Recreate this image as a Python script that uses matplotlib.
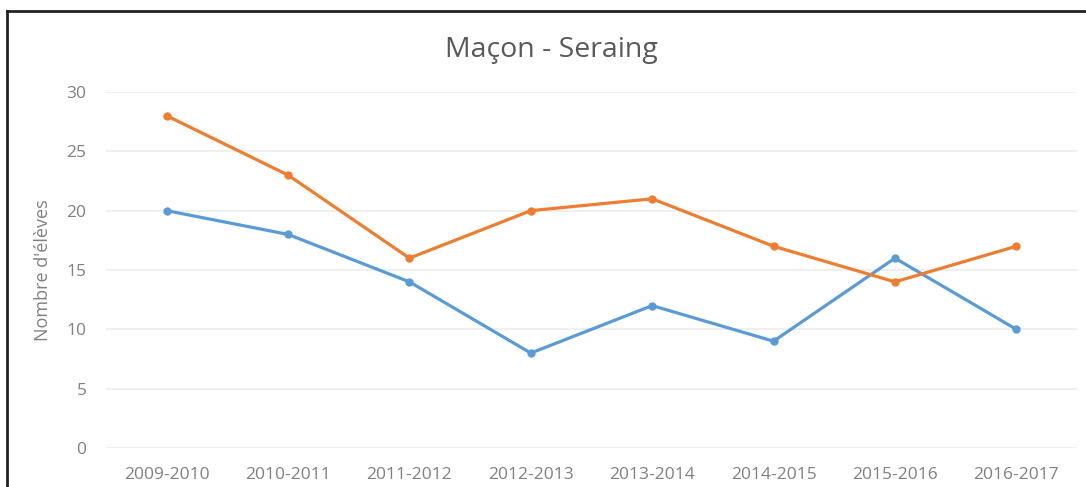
import matplotlib.pyplot as plt
from matplotlib.lines import Line2D

# Student counts per school year
years = ["2009-2010", "2010-2011", "2011-2012", "2012-2013",
         "2013-2014", "2014-2015", "2015-2016", "2016-2017"]
orange_vals = [28, 23, 16, 20, 21, 17, 14, 17]
blue_vals = [20, 18, 14, 8, 12, 9, 16, 10]

plt.rcParams['font.family'] = ['Open Sans', 'DejaVu Sans']

W, H = 1086, 487
fig = plt.figure(figsize=(W / 100, H / 100), dpi=100)
ax = fig.add_axes([106 / W, (H - 448) / H, (1077 - 106) / W, (448 - 92) / H])

x = range(len(years))
ax.plot(x, blue_vals, color="#5B9BD5", lw=2.3, marker="o", ms=5)
ax.plot(x, orange_vals, color="#ED7D31", lw=2.3, marker="o", ms=5)

ax.set_xlim(-0.5, len(years) - 0.5)
ax.set_ylim(0, 30)
ax.set_yticks(range(0, 31, 5))
ax.set_xticks(list(x))
ax.set_xticklabels(years)
ax.grid(axis="y", color="#ececec", lw=1.2)
ax.set_axisbelow(True)
for s in ax.spines.values():
    s.set_visible(False)
ax.tick_params(length=0, colors="#808080", labelsize=12.5)
ax.tick_params(axis="y", pad=14)
ax.tick_params(axis="x", pad=13.5)

ax.set_ylabel("Nombre d'élèves", color="#808080", fontsize=13)
ax.yaxis.set_label_coords((52 - 106) / 971, 0.5)
fig.text(551 / W, 1 - 50 / H, "Maçon - Seraing", ha="center", va="center",
         fontsize=20.5, color="#595959")

# frame lines at the top and left
fig.add_artist(Line2D([7 / W, 7 / W], [0, 1 - 11 / H], color="#222222", lw=2))
fig.add_artist(Line2D([7 / W, 1], [1 - 11 / H, 1 - 11 / H], color="#222222", lw=2))

fig.savefig("out.png", dpi=100)
